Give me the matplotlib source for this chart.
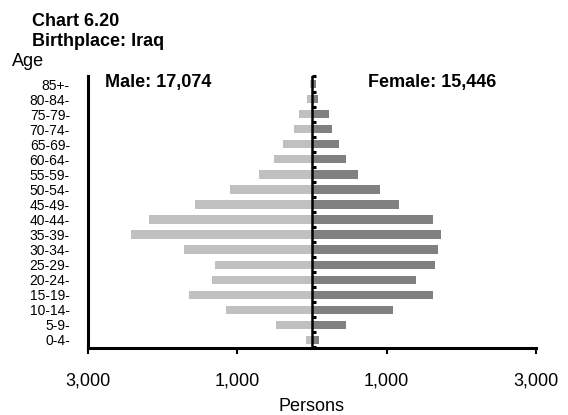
import numpy as np
import matplotlib.pyplot as plt

ages = ['0-4-', '5-9-', '10-14-', '15-19-', '20-24-', '25-29-', '30-34-', '35-39-',
        '40-44-', '45-49-', '50-54-', '55-59-', '60-64-', '65-69-', '70-74-',
        '75-79-', '80-84-', '85+-']
male = [78, 480, 1146, 1646, 1345, 1295, 1709, 2421, 2178, 1561, 1092, 705,
        503, 395, 236, 170, 65, 30]
female = [92, 453, 1082, 1615, 1393, 1646, 1691, 1731, 1619, 1159, 912, 615,
          457, 358, 267, 223, 75, 55]
xticks = [-3000, -1000, 1000, 3000]
xlabels = ['3,000', '1,000', '1,000', '3,000']

plt.rcParams['font.family'] = ['Liberation Sans', 'DejaVu Sans']

W, H = 568, 415
fig = plt.figure(figsize=(W / 100, H / 100), dpi=100)
ax = fig.add_axes([88 / W, 1 - 347.5 / H, (536 - 88) / W, (347.5 - 76.5) / H])

y = np.arange(len(ages))
ax.barh(y, -np.array(male), height=0.55, color='#c0c0c0')
ax.barh(y, female, height=0.55, color='#808080')
ax.axvline(0, color='black', lw=1.8, zorder=4)

ax.set_xlim(-3000, 3000)
ax.set_ylim(-0.5, len(ages) - 0.5)
ax.set_xticks(xticks)
ax.set_xticklabels(xlabels, fontsize=13)
ax.set_yticks(y)
ax.set_yticklabels(ages, fontsize=10)
ax.tick_params(axis='y', length=0, pad=13)
ax.tick_params(axis='x', length=4, width=1.5, pad=14)

for s in ['top', 'right']:
    ax.spines[s].set_visible(False)
for s in ['left', 'bottom']:
    ax.spines[s].set_linewidth(2.2)

# small ticks on the centre line at the group boundaries
sec = ax.secondary_yaxis(0.5)
sec.spines['left'].set_visible(False)
sec.set_yticks(np.arange(len(ages) + 1) - 0.5)
sec.set_yticklabels([])
sec.tick_params(length=3, width=2.2, direction='out')

ax.set_xlabel('Persons', fontsize=13, labelpad=6)

def ftext(px, py, s, **kw):
    fig.text(px / W, 1 - py / H, s, va='baseline', **kw)

ftext(32, 26.5, 'Chart 6.20', fontsize=13, fontweight='bold')
ftext(32, 46.5, 'Birthplace: Iraq', fontsize=13, fontweight='bold')
ftext(12, 65.5, 'Age', fontsize=13)
ftext(105, 86.5, 'Male: 17,074', fontsize=13, fontweight='bold')
ftext(368, 86.5, 'Female: 15,446', fontsize=13, fontweight='bold')

fig.savefig('out.png', dpi=100)
